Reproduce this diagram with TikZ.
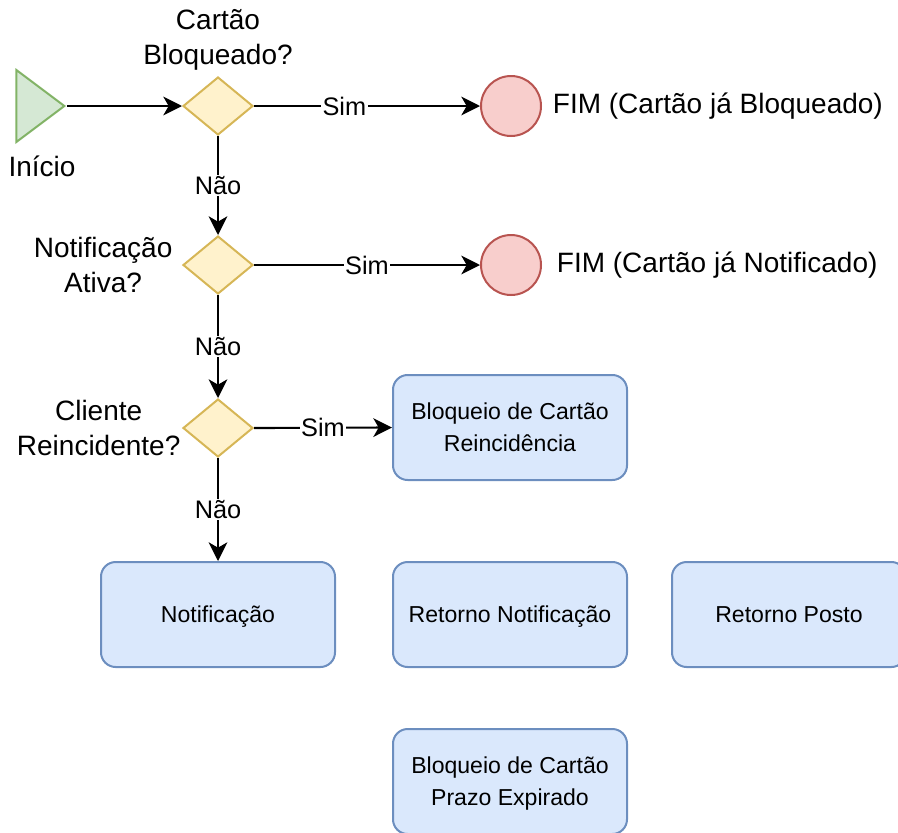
\documentclass[tikz,border=0pt]{standalone}
\usepackage{fontspec}
\setmainfont{Liberation Sans}
\usepackage{tikz}
\usetikzlibrary{shapes.geometric,arrows.meta,positioning}
\definecolor{startfill}{HTML}{D5E8D4}
\definecolor{startline}{HTML}{82B366}
\definecolor{askfill}{HTML}{FFF2CC}
\definecolor{askline}{HTML}{D6B656}
\definecolor{endfill}{HTML}{F8CECC}
\definecolor{endline}{HTML}{B85450}
\definecolor{stepfill}{HTML}{DAE8FC}
\definecolor{stepline}{HTML}{6C8EBF}
\tikzset{
    start/.style={isosceles triangle, isosceles triangle stretches, shape border rotate=0, draw=startline, fill=startfill, line width=1.5pt, inner sep=0pt, minimum width=54pt, minimum height=36pt},
    ask/.style={diamond, draw=askline, fill=askfill, line width=1.5pt, inner sep=0pt, minimum width=52.5pt, minimum height=43.5pt},
    finish/.style={circle, draw=endline, fill=endfill, line width=1.5pt, inner sep=0pt, minimum size=45pt},
    stepbox/.style={rectangle, rounded corners=11pt, draw=stepline, fill=stepfill, line width=1.5pt, minimum width=175.5pt, minimum height=78.75pt, align=center, text depth=0pt, font=\fontsize{17.3}{24}\selectfont},
    bigtext/.style={align=center, inner sep=1pt, font=\fontsize{21}{26}\selectfont},
    flow/.style={line width=1.6pt, black, -{Stealth[length=14pt,width=14pt,inset=4pt]}},
    edgetext/.style={fill=white, inner sep=1pt, font=\fontsize{19}{22}\selectfont},
}
\begin{document}
\begin{tikzpicture}[x=0.75pt,y=-0.75pt]
    \clip (0,0) rectangle (898,832);
    \useasboundingbox (0,0) rectangle (898,832);
    % start and questions
    \node[start, anchor=apex] (inicio) at (67,106) {};
    \node[bigtext] (inicioT) at (42,166) {Início};
    \node[ask] (bloq) at (218,106) {};
    \node[ask] (notif) at (218,265) {};
    \node[ask] (reinc) at (218,428) {};
    \node[bigtext, above=3pt of bloq] (bloqT) {Cartão\\Bloqueado?};
    \node[bigtext, left=6pt of notif] (notifT) {Notificação\\Ativa?};
    \node[bigtext, left=0pt of reinc] (reincT) {Cliente\\Reincidente?};
    % ends
    \node[finish] (fim1) at (511,106) {};
    \node[finish] (fim2) at (511,265) {};
    \node[bigtext, right=7pt of fim1] (fim1T) {FIM (Cartão já Bloqueado)};
    \node[bigtext, right=10pt of fim2] (fim2T) {FIM (Cartão já Notificado)};
    % steps
    \node[stepbox] (bloqR) at (510,427.5) {Bloqueio de Cartão\\Reincidência};
    \node[stepbox] (aviso) at (218,614.5) {Notificação};
    \node[stepbox] (retN) at (510,614.5) {Retorno Notificação};
    \node[stepbox] (retP) at (789,614.5) {Retorno Posto};
    \node[stepbox] (bloqP) at (510,781.5) {Bloqueio de Cartão\\Prazo Expirado};
    % connectors
    \draw[flow] (inicio.apex) -- (bloq.west);
    \draw[flow] (bloq.east) -- (fim1.west) node[edgetext, pos=0.4] {Sim};
    \draw[flow] (bloq.south) -- (notif.north) node[edgetext, midway] {Não};
    \draw[flow] (notif.east) -- (fim2.west) node[edgetext, midway] {Sim};
    \draw[flow] (notif.south) -- (reinc.north) node[edgetext, midway] {Não};
    \draw[flow] (reinc.east) -- (bloqR.west) node[edgetext, midway] {Sim};
    \draw[flow] (reinc.south) -- (aviso.north) node[edgetext, midway] {Não};
\end{tikzpicture}
\end{document}
